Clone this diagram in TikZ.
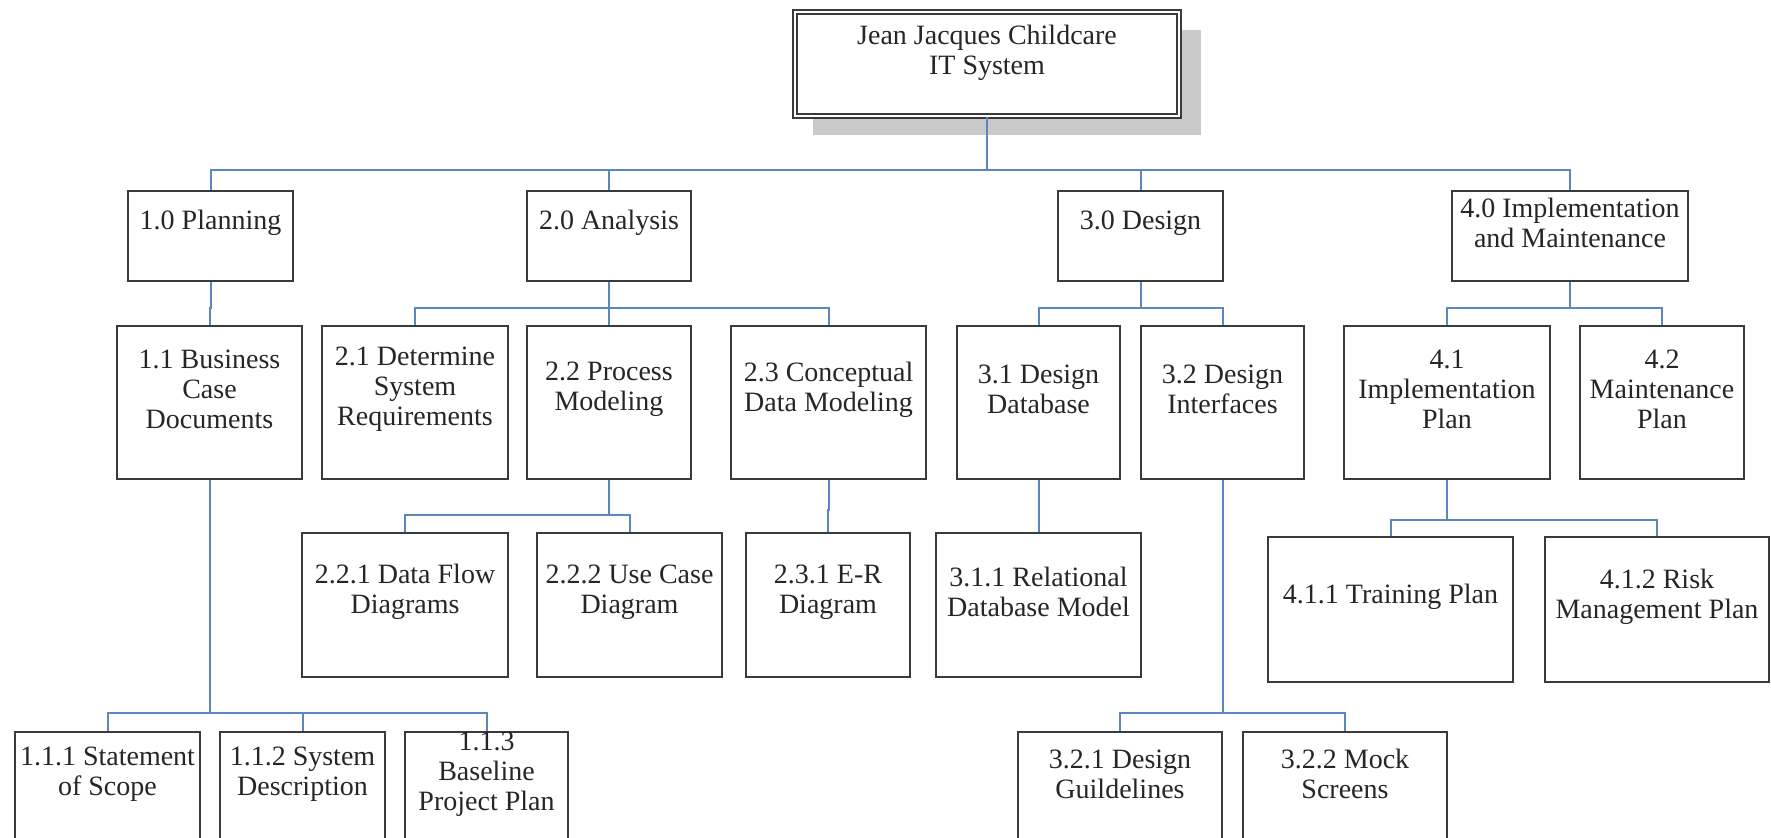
\documentclass[tikz,border=0pt]{standalone}
\usepackage{fontspec}
\setmainfont{Liberation Serif}
\usetikzlibrary{shadows}

\definecolor{connblue}{HTML}{5B86C0}
\definecolor{boxline}{HTML}{3A3A3A}
\definecolor{shadowgray}{HTML}{C9C9C9}

\begin{document}
\begin{tikzpicture}[
    x=0.5pt, y=-0.5pt,
    every node/.style={font=\fontsize{14}{15}\selectfont, text=black!85},
    box/.style={draw=boxline, line width=1pt, fill=white, inner sep=0pt},
    txt/.style={align=center, yshift=6.5pt, inner sep=0pt},
    lvlone/.style={box, minimum height=45pt},
    lvltwo/.style={box, minimum height=76.5pt},
    lvlthree/.style={box, minimum height=72pt},
    lvlfour/.style={box, minimum height=55pt},
    conn/.style={draw=connblue, line width=1pt}
]
\useasboundingbox (0,0) rectangle (1771,837);
\clip (0,0) rectangle (1771,837);

% Root
\node[box, double=white, double distance=1.2pt, line width=0.9pt,
      minimum width=192pt, minimum height=52pt,
      drop shadow={shadow xshift=10pt, shadow yshift=-9pt, shadow scale=1.01, fill=shadowgray, opacity=1},
      label={[txt, yshift=-0.8pt]center:{Jean Jacques Childcare\\IT System}}] (root) at (987,64) {};

% Phases
\node[lvlone, minimum width=82.5pt, label={[txt]center:1.0 Planning}] (p1) at (210.5,236) {};
\node[lvlone, minimum width=82pt, label={[txt]center:2.0 Analysis}] (p2) at (609,236) {};
\node[lvlone, minimum width=82.5pt, label={[txt]center:3.0 Design}] (p3) at (1140.5,236) {};
\node[lvlone, minimum width=118pt, label={[txt]center:{4.0 Implementation\\and Maintenance}}] (p4) at (1570,236) {};

% Tasks
\node[lvltwo, minimum width=92.5pt, label={[txt]center:{1.1 Business\\Case\\Documents}}] (s11) at (209.5,402.5) {};
\node[lvltwo, minimum width=93pt, label={[txt]center:{2.1 Determine\\System\\Requirements}}] (s21) at (415,402.5) {};
\node[lvltwo, minimum width=82pt, label={[txt]center:{2.2 Process\\Modeling}}] (s22) at (609,402.5) {};
\node[lvltwo, minimum width=97.5pt, label={[txt]center:{2.3 Conceptual\\Data Modeling}}] (s23) at (828.5,402.5) {};
\node[lvltwo, minimum width=81.5pt, label={[txt]center:{3.1 Design\\Database}}] (s31) at (1038.5,402.5) {};
\node[lvltwo, minimum width=81.5pt, label={[txt]center:{3.2 Design\\Interfaces}}] (s32) at (1222.5,402.5) {};
\node[lvltwo, minimum width=103pt, label={[txt]center:{4.1\\Implementation\\Plan}}] (s41) at (1447,402.5) {};
\node[lvltwo, minimum width=82pt, label={[txt]center:{4.2\\Maintenance\\Plan}}] (s42) at (1662,402.5) {};

% Sub-tasks
\node[lvlthree, minimum width=103pt, label={[txt]center:{2.2.1 Data Flow\\Diagrams}}] (t221) at (405,605) {};
\node[lvlthree, minimum width=92.5pt, label={[txt]center:{2.2.2 Use Case\\Diagram}}] (t222) at (629.5,605) {};
\node[lvlthree, minimum width=82pt, label={[txt]center:{2.3.1 E-R\\Diagram}}] (t231) at (828,605) {};
\node[lvlthree, minimum width=102.5pt, label={[txt]center:{3.1.1 Relational\\Database Model}}] (t311) at (1038.5,605) {};
\node[lvlthree, minimum width=122.5pt, minimum height=72.5pt, label={[txt]center:4.1.1 Training Plan}] (t411) at (1390.5,609.5) {};
\node[lvlthree, minimum width=112pt, minimum height=72.5pt, label={[txt]center:{4.1.2 Risk\\Management Plan}}] (t412) at (1657,609.5) {};

% Work packages
\node[lvlfour, minimum width=92.5pt, label={[txt]center:{1.1.1 Statement\\of Scope}}] (q111) at (107.5,787) {};
\node[lvlfour, minimum width=82.5pt, label={[txt]center:{1.1.2 System\\Description}}] (q112) at (302.5,787) {};
\node[lvlfour, minimum width=81.5pt, label={[txt]center:{1.1.3\\Baseline\\Project Plan}}] (q113) at (486.5,787) {};
\node[lvlfour, minimum width=102pt, label={[txt]center:{3.2.1 Design\\Guildelines}}] (q321) at (1120,787) {};
\node[lvlfour, minimum width=102pt, label={[txt]center:{3.2.2 Mock\\Screens}}] (q322) at (1345,787) {};

% Connections: root to phases
\foreach \c in {p1,p2,p3,p4}
    \draw[conn] (root.south) -- ++(0,53) -| (\c.north);

% Connections: phases to tasks
\foreach \p/\c in {p1/s11, p2/s21, p2/s22, p2/s23, p3/s31, p3/s32, p4/s41, p4/s42}
    \draw[conn] (\p.south) -- ++(0,26) -| (\c.north);

% Connections: tasks to sub-tasks
\foreach \p/\c/\d in {s22/t221/34.5, s22/t222/34.5, s23/t231/30, s31/t311/30,
                      s41/t411/39.5, s41/t412/39.5,
                      s11/q111/232.5, s11/q112/232.5, s11/q113/232.5,
                      s32/q321/232.5, s32/q322/232.5}
    \draw[conn] (\p.south) -- ++(0,\d) -| (\c.north);

\end{tikzpicture}
\end{document}
